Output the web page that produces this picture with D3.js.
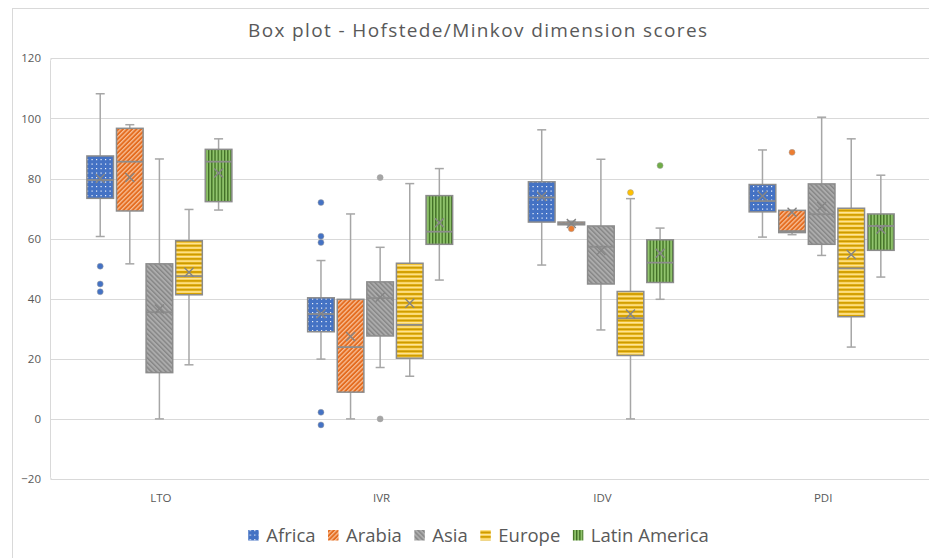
<!DOCTYPE html>
<html><head><meta charset="utf-8">
<script src="https://cdn.jsdelivr.net/npm/d3@7"></script>
<style>html,body{margin:0;padding:0;background:#fff;}svg{display:block;}</style>
</head><body>
<svg id="chart" width="929" height="558"></svg>
<script>
// ---------- DATA ----------
const dims = ["LTO", "IVR", "IDV", "PDI"];
const regions = ["Africa", "Arabia", "Asia", "Europe", "Latin America"];
const yTicks = [-20, 0, 20, 40, 60, 80, 100, 120];
// rows = regions, columns = dims
const whiskerLow = [
  [60.7, 19.9, 51.2, 60.5],
  [51.6, 0, 64.5, 61.3],
  [0, 17.1, 29.6, 54.4],
  [18, 14.2, 0, 23.9],
  [69.5, 46.2, 39.8, 47.2]
];
const q1 = [
  [73.4, 29, 65.5, 68.9],
  [69.2, 8.9, 64.6, 62],
  [15.4, 27.6, 44.9, 58.1],
  [41.3, 20.2, 21.1, 34],
  [72.3, 58.1, 45.4, 56.1]
];
const median = [
  [79.5, 34.9, 73.7, 72.5],
  [85.6, 23.9, 65, 62.5],
  [35.5, 40.2, 57.3, 68.1],
  [47.5, 31.3, 33.5, 50.1],
  [85.6, 62.3, 52, 64.2]
];
const q3 = [
  [87.5, 40.3, 78.9, 78],
  [96.7, 39.8, 65.5, 69.4],
  [51.6, 45.6, 64.2, 78.2],
  [59.3, 51.8, 42.4, 70.1],
  [89.7, 74.3, 59.6, 68.2]
];
const whiskerHigh = [
  [108.2, 52.7, 96.2, 89.5],
  [97.9, 68.2, 65.8, 69.4],
  [86.5, 57.1, 86.4, 100.4],
  [69.7, 78.3, 73.3, 93.2],
  [93.2, 83.3, 63.5, 81.1]
];
const meanVal = [
  [80, 35, 74, 74.2],
  [80.3, 27.4, 65, 68.8],
  [36.6, 40.5, 56, 70.7],
  [48.8, 38.5, 34.9, 54.7],
  [81.8, 65.3, 55.1, 63.1]
];
const outliers = [
  [[50.8, 44.9, 42.3], [72, 60.8, 58.7, 2.2, -2], [], []],
  [[], [], [63.3], [88.7]],
  [[], [80.3, 0], [], []],
  [[], [], [75.3], []],
  [[], [], [84.3], []]
];
const colors = ["#4472C4", "#ED7D31", "#A5A5A5", "#FFC000", "#70AD47"];

// ---------- LAYOUT ----------
const svg = d3.select("#chart");
const plot = {left: 50.5, top: 58.3, right: 933.5, bottom: 479};

const y = d3.scaleLinear().domain([-20, 120]).range([plot.bottom, plot.top]);
const x0 = d3.scaleBand().domain(dims).range([plot.left, plot.right]);
const x1 = d3.scaleBand().domain(regions).range([36.4, 181.4]).paddingInner(0.1).paddingOuter(0);

// ---------- PATTERNS ----------
const defs = svg.append("defs");
// Africa: dots
let p = defs.append("pattern").attr("id", "pat0").attr("patternUnits", "userSpaceOnUse").attr("width", 9).attr("height", 9);
p.append("rect").attr("width", 9).attr("height", 9).attr("fill", colors[0]);
[[1.5,1.5],[6,1.5],[1.5,6],[6,6]].forEach(d => p.append("rect").attr("x", d[0]).attr("y", d[1]).attr("width", 1.2).attr("height", 1.2).attr("fill", "#ffffff").attr("opacity", 0.9));
// Arabia: upward diagonal light stripes
p = defs.append("pattern").attr("id", "pat1").attr("patternUnits", "userSpaceOnUse").attr("width", 3.2).attr("height", 10).attr("patternTransform", "rotate(45)");
p.append("rect").attr("width", 3.2).attr("height", 10).attr("fill", "#E46C1F");
p.append("rect").attr("width", 1.3).attr("height", 10).attr("fill", "#F8BE95");
// Asia: downward diagonal dark stripes
p = defs.append("pattern").attr("id", "pat2").attr("patternUnits", "userSpaceOnUse").attr("width", 3.4).attr("height", 10).attr("patternTransform", "rotate(-45)");
p.append("rect").attr("width", 3.4).attr("height", 10).attr("fill", "#ABABAB");
p.append("rect").attr("width", 1.4).attr("height", 10).attr("fill", "#858585");
// Europe: horizontal stripes
p = defs.append("pattern").attr("id", "pat3").attr("patternUnits", "userSpaceOnUse").attr("width", 10).attr("height", 4.4);
p.append("rect").attr("width", 10).attr("height", 4.4).attr("fill", "#EDB200");
p.append("rect").attr("y", 0.6).attr("width", 10).attr("height", 1.8).attr("fill", "#FFE699");
p.append("rect").attr("y", 3.1).attr("width", 10).attr("height", 1.1).attr("fill", "#BF9000");
// Latin America: vertical stripes
p = defs.append("pattern").attr("id", "pat4").attr("patternUnits", "userSpaceOnUse").attr("width", 3.2).attr("height", 10);
p.append("rect").attr("width", 3.2).attr("height", 10).attr("fill", "#6FAA45");
p.append("rect").attr("width", 1.1).attr("height", 10).attr("fill", "#3F6B26");
p.append("rect").attr("x", 1.9).attr("width", 0.9).attr("height", 10).attr("fill", "#A9D68A");

// ---------- FRAME ----------
svg.append("rect").attr("x", 12.5).attr("y", 8.5).attr("width", 940).attr("height", 600)
  .attr("fill", "#fff").attr("stroke", "#d9d9d9").attr("stroke-width", 1);

// gridlines
svg.append("g").selectAll("line").data(yTicks).join("line")
  .attr("x1", plot.left).attr("x2", plot.right)
  .attr("y1", d => Math.round(y(d)) + 0.5).attr("y2", d => Math.round(y(d)) + 0.5)
  .attr("stroke", "#d9d9d9").attr("stroke-width", 1);
svg.append("rect").attr("x", plot.left).attr("y", Math.round(y(120)) + 0.5)
  .attr("width", plot.right - plot.left).attr("height", Math.round(y(-20)) - Math.round(y(120)))
  .attr("rx", 2).attr("fill", "none").attr("stroke", "#d9d9d9");

// y axis labels
const yAxis = d3.axisLeft(y).tickValues(yTicks).tickSize(0).tickPadding(0);
const gy = svg.append("g").attr("transform", "translate(41,0)").call(yAxis);
gy.select(".domain").remove();
gy.selectAll("text").attr("fill", "#595959").attr("font-family", "'Open Sans', sans-serif").attr("font-size", "11.5px");

// x axis labels
const xAxis = d3.axisBottom(x0).tickSize(0).tickPadding(0);
const gx = svg.append("g").attr("transform", "translate(0,494)").call(xAxis);
gx.select(".domain").remove();
gx.selectAll("text").attr("fill", "#595959").attr("font-family", "'Open Sans', sans-serif").attr("font-size", "11.5px");

// ---------- BOXES ----------
const boxes = [];
regions.forEach((r, ri) => dims.forEach((dm, di) => boxes.push({
  r, ri, dm, di,
  lo: whiskerLow[ri][di], q1: q1[ri][di], med: median[ri][di], q3: q3[ri][di],
  hi: whiskerHigh[ri][di], mean: meanVal[ri][di], out: outliers[ri][di]
})));
const bw = x1.bandwidth();
const cx = d => x0(d.dm) + x1(d.r) + bw / 2;
const whiskerColor = "#a6a6a6", boxStroke = "#8c8c8c";

const g = svg.append("g");
const bg = g.selectAll("g.box").data(boxes).join("g").attr("class", "box");
bg.append("line").attr("x1", cx).attr("x2", cx).attr("y1", d => y(d.hi)).attr("y2", d => y(d.q3))
  .attr("stroke", whiskerColor).attr("stroke-width", 1.5);
bg.append("line").attr("x1", cx).attr("x2", cx).attr("y1", d => y(d.q1)).attr("y2", d => y(d.lo))
  .attr("stroke", whiskerColor).attr("stroke-width", 1.5);
bg.append("line").attr("x1", d => cx(d) - 4.5).attr("x2", d => cx(d) + 4.5).attr("y1", d => y(d.hi)).attr("y2", d => y(d.hi))
  .attr("stroke", whiskerColor).attr("stroke-width", 1.5);
bg.append("line").attr("x1", d => cx(d) - 4.5).attr("x2", d => cx(d) + 4.5).attr("y1", d => y(d.lo)).attr("y2", d => y(d.lo))
  .attr("stroke", whiskerColor).attr("stroke-width", 1.5);
bg.append("rect").attr("x", d => cx(d) - bw / 2).attr("width", bw)
  .attr("y", d => y(d.q3)).attr("height", d => Math.max(1.5, y(d.q1) - y(d.q3)))
  .attr("fill", d => `url(#pat${d.ri})`).attr("stroke", boxStroke).attr("stroke-width", 1.5);
bg.append("line").attr("x1", d => cx(d) - bw / 2).attr("x2", d => cx(d) + bw / 2)
  .attr("y1", d => y(d.med)).attr("y2", d => y(d.med))
  .attr("stroke", boxStroke).attr("stroke-width", 1.8);
bg.append("path").attr("d", d => {
  const mx = cx(d), my = y(d.mean), s = 4.5;
  return `M${mx - s},${my - s}L${mx + s},${my + s}M${mx - s},${my + s}L${mx + s},${my - s}`;
}).attr("stroke", "#858585").attr("stroke-width", 1.4).attr("fill", "none");
bg.selectAll("circle").data(d => d.out.map(v => ({v, d}))).join("circle")
  .attr("cx", o => cx(o.d)).attr("cy", o => y(o.v)).attr("r", 3)
  .attr("fill", o => colors[o.d.ri]).attr("stroke", "#a0a0a0").attr("stroke-width", 0.5);

// ---------- TITLE ----------
svg.append("text").attr("x", 477.5).attr("y", 37).attr("text-anchor", "middle")
  .attr("font-family", "'Open Sans', sans-serif").attr("font-size", "19px").attr("fill", "#595959")
  .attr("textLength", 459).attr("lengthAdjust", "spacing")
  .text("Box plot - Hofstede/Minkov dimension scores");

// ---------- LEGEND ----------
const lg = svg.append("g");
const items = lg.selectAll("g").data(regions).join("g");
items.append("rect").attr("width", 10.5).attr("height", 10.5).attr("y", -12)
  .attr("fill", (d, i) => `url(#pat${i})`);
items.append("text").attr("x", 18).attr("y", 0)
  .attr("font-family", "'Open Sans', sans-serif").attr("font-size", "18.5px").attr("fill", "#595959")
  .text(d => d);
const widths = [];
items.each(function () {
  widths.push(18 + d3.select(this).select("text").node().getComputedTextLength());
});
const gap = 12.5;
const total = d3.sum(widths) + gap * (widths.length - 1);
let xpos = 478.5 - total / 2;
items.attr("transform", (d, i) => {
  const t = `translate(${xpos},542)`;
  xpos += widths[i] + gap;
  return t;
});
</script>
</body></html>
